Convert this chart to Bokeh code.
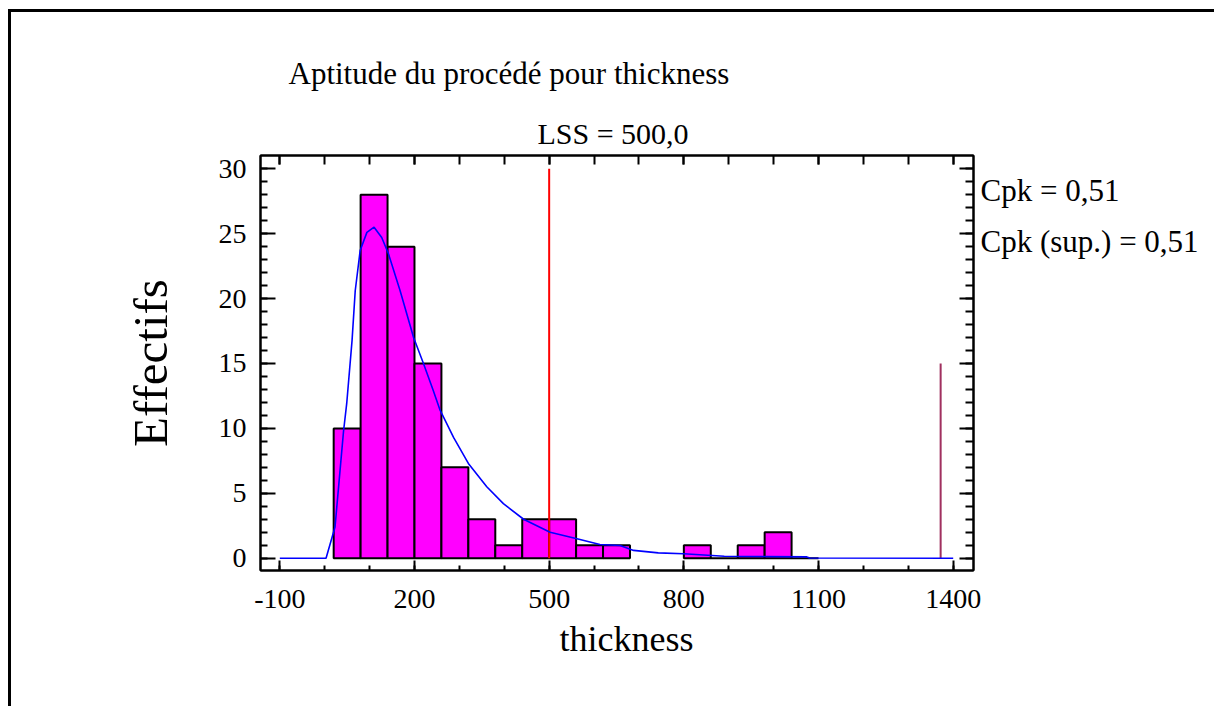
from bokeh.plotting import figure
from bokeh.models import LinearAxis, FixedTicker, Range1d, Title
from bokeh.embed import file_html
from bokeh.resources import INLINE

# ---- data ----
bin_left = [20, 80, 140, 200, 260, 320, 380, 440, 500, 560, 620, 800, 860, 920, 980, 1040]
bin_width = 60
counts = [10, 28, 24, 15, 7, 3, 1, 3, 3, 1, 1, 1, 0, 1, 2, 0]

curve_x = [-100, 3, 23, 42, 49, 61, 68, 79, 94, 110, 127, 142, 168, 198, 220, 242, 257,
           287, 320, 361, 398, 443, 502, 562, 613, 658, 688, 743, 799, 890, 1074, 1080, 1400]
curve_y = [0, 0, 2.4, 9.8, 11.9, 16.8, 20.6, 23.7, 25.1, 25.5, 24.7, 23.45, 20.6, 17.0, 15.0, 12.9, 11.4,
           9.3, 7.3, 5.5, 4.2, 3.0, 2.0, 1.5, 1.05, 0.98, 0.6, 0.41, 0.34, 0.15, 0.1, 0.02, 0.0]

usl = 500
usl_top = 30
mark_x = 1372
mark_top = 15

x_ticks = [-100, 200, 500, 800, 1100, 1400]
x_tick_labels = ["-100", "200", "500", "800", "1100", "1400"]
x_minor = list(range(-100, 1401, 100))
y_ticks = [0, 5, 10, 15, 20, 25, 30]
y_tick_labels = ["0", "5", "10", "15", "20", "25", "30"]
y_minor = list(range(0, 31))

title_text = "Aptitude du procédé pour thickness"
sub_text = "LSS = 500,0"
cpk_texts = ["Cpk = 0,51", "Cpk (sup.) = 0,51"]
cpk_pos = [28.3, 24.4]
x_label = "thickness"
y_label = "Effectifs"

FONT = "Liberation Serif"

p = figure(width=1206, height=697,
           x_range=Range1d(-143.0, 1445.2), y_range=Range1d(-0.948, 31.02),
           output_backend="svg", toolbar_location=None,
           min_border_left=249, min_border_right=244,
           min_border_top=143, min_border_bottom=139)
p.styles = {"margin-left": "8px", "margin-top": "9px",
            "border-left": "3px solid black", "border-top": "3px solid black"}
p.grid.visible = False
p.outline_line_color = "black"
p.outline_line_width = 2
p.background_fill_color = "white"
p.border_fill_color = "white"

common = dict(axis_line_width=2, major_tick_line_width=2, minor_tick_line_width=2,
              major_tick_out=0, minor_tick_out=0)

# bottom axis
xa = p.xaxis[0]
xa.ticker = FixedTicker(ticks=x_ticks, minor_ticks=x_minor)
xa.major_label_overrides = {t: s for t, s in zip(x_ticks, x_tick_labels)}
for k, v in common.items():
    setattr(xa, k, v)
xa.major_tick_in = 10
xa.minor_tick_in = 5
xa.major_label_text_font = FONT
xa.major_label_text_font_size = "28px"
xa.major_label_text_color = "black"
xa.major_label_standoff = 19

# left axis
ya = p.yaxis[0]
ya.ticker = FixedTicker(ticks=y_ticks, minor_ticks=y_minor)
ya.major_label_overrides = {t: s for t, s in zip(y_ticks, y_tick_labels)}
for k, v in common.items():
    setattr(ya, k, v)
ya.major_tick_in = 15
ya.minor_tick_in = 7
ya.major_label_text_font = FONT
ya.major_label_text_font_size = "28px"
ya.major_label_text_color = "black"
ya.major_label_standoff = 14
ya.axis_label = y_label
ya.axis_label_text_font = FONT
ya.axis_label_text_font_size = "49px"
ya.axis_label_text_font_style = "normal"
ya.axis_label_text_color = "black"
ya.axis_label_standoff = 38

# top axis (ticks only)
ta = LinearAxis(ticker=FixedTicker(ticks=x_ticks, minor_ticks=x_minor),
                major_tick_in=9, minor_tick_in=9, major_label_standoff=0,
                major_label_overrides={t: "" for t in x_ticks}, **common)
p.add_layout(ta, "above")

# right axis (ticks only)
ra = LinearAxis(ticker=FixedTicker(ticks=y_ticks, minor_ticks=y_minor),
                major_tick_in=14, minor_tick_in=8, major_label_standoff=0,
                major_label_overrides={t: "" for t in y_ticks}, **common)
p.add_layout(ra, "right")

# right-side capability texts
ca = LinearAxis(ticker=FixedTicker(ticks=cpk_pos),
                major_label_overrides={t: s for t, s in zip(cpk_pos, cpk_texts)},
                axis_line_color=None, major_tick_line_color=None, minor_tick_line_color=None,
                major_tick_in=0, major_tick_out=0, minor_tick_in=0, minor_tick_out=0,
                major_label_standoff=7, major_label_text_font=FONT,
                major_label_text_font_size="31px", major_label_text_color="black")
p.add_layout(ca, "right")

# titles above
p.add_layout(Title(text=sub_text, align="left", offset=277, standoff=12,
                   text_font=FONT, text_font_size="30px", text_font_style="normal",
                   text_color="black"), "above")
p.add_layout(Title(text=title_text, align="left", offset=28, standoff=36,
                   text_font=FONT, text_font_size="31px", text_font_style="normal",
                   text_color="black"), "above")
# x axis title below
p.add_layout(Title(text=x_label, align="left", offset=299, standoff=12,
                   text_font=FONT, text_font_size="36px", text_font_style="normal",
                   text_color="black"), "below")

# histogram
p.quad(left=bin_left, right=[l + bin_width for l in bin_left], bottom=0, top=counts,
       fill_color="#FF00FF", line_color="black", line_width=2)

# limit lines
p.segment(x0=[usl], y0=[0], x1=[usl], y1=[usl_top], line_color="#FF0000", line_width=2)
p.segment(x0=[mark_x], y0=[0], x1=[mark_x], y1=[mark_top], line_color="#A0305F", line_width=2)

# fitted curve
p.line(curve_x, curve_y, line_color="#0000FF", line_width=1.6)

open("out.html", "w").write(file_html(p, INLINE))
